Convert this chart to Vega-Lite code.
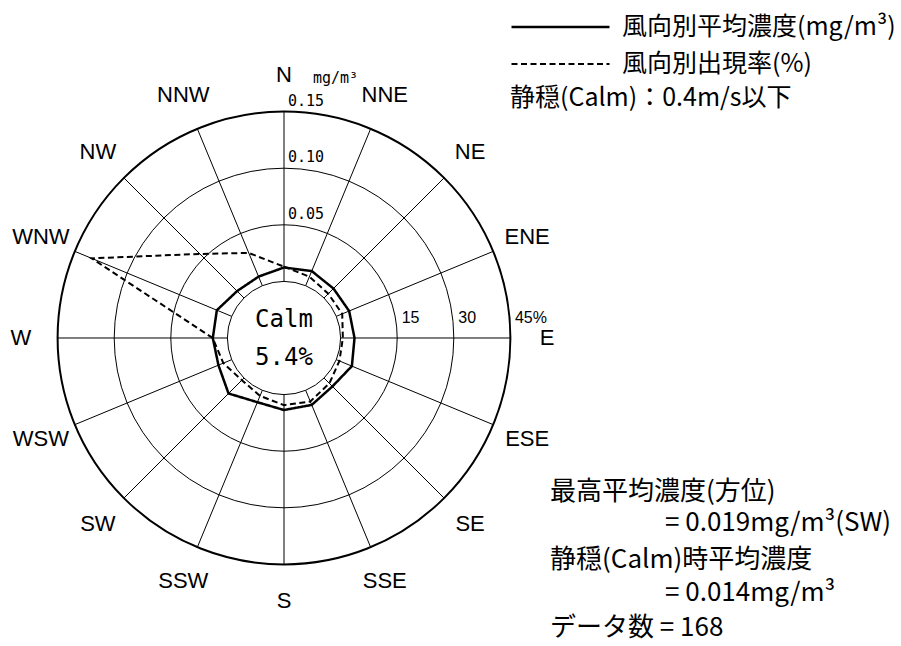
{
  "$schema": "https://vega.github.io/schema/vega-lite/v6.json",
  "width": 901,
  "height": 646,
  "autosize": {"type": "none"},
  "padding": 0,
  "background": "white",
  "config": {
    "view": {"stroke": null},
    "mark": {"color": "black"},
    "text": {"color": "black"},
    "legend": {
      "orient": "none",
      "legendX": 510,
      "legendY": 15,
      "padding": 0,
      "symbolType": "stroke",
      "symbolSize": 9604,
      "symbolStrokeWidth": 2,
      "symbolStrokeColor": "black",
      "symbolOffset": 0,
      "labelFont": "Noto Sans CJK JP",
      "labelFontSize": 25,
      "labelColor": "black",
      "labelLimit": 600,
      "labelOffset": 11,
      "clipHeight": 24,
      "rowPadding": 12
    }
  },
  "datasets": {
    "dirs": [
      {"dir": "N", "angle": 0, "conc": 0.0123, "pct": 3.9},
      {"dir": "NNE", "angle": 22.5, "conc": 0.0140, "pct": 2.6},
      {"dir": "NE", "angle": 45, "conc": 0.0118, "pct": 1.6},
      {"dir": "ENE", "angle": 67.5, "conc": 0.0123, "pct": 1.7},
      {"dir": "E", "angle": 90, "conc": 0.0123, "pct": 0.6},
      {"dir": "ESE", "angle": 112.5, "conc": 0.0149, "pct": 0.9},
      {"dir": "SE", "angle": 135, "conc": 0.0105, "pct": 2.0},
      {"dir": "SSE", "angle": 157.5, "conc": 0.0140, "pct": 3.2},
      {"dir": "S", "angle": 180, "conc": 0.0136, "pct": 2.8},
      {"dir": "SSW", "angle": 202.5, "conc": 0.0114, "pct": 1.6},
      {"dir": "SW", "angle": 225, "conc": 0.0193, "pct": 0.8},
      {"dir": "WSW", "angle": 247.5, "conc": 0.0127, "pct": 2.4},
      {"dir": "W", "angle": 270, "conc": 0.0129, "pct": 3.9},
      {"dir": "WNW", "angle": 292.5, "conc": 0.0142, "pct": 40.2},
      {"dir": "NW", "angle": 315, "conc": 0.0086, "pct": 16.5},
      {"dir": "NNW", "angle": 337.5, "conc": 0.0087, "pct": 9.4}
    ],
    "rings": [{"conc": 0}, {"conc": 0.05}, {"conc": 0.1}, {"conc": 0.15}],
    "conclabels": [
      {"conc": 0.05, "label": "0.05"},
      {"conc": 0.1, "label": "0.10"},
      {"conc": 0.15, "label": "0.15"}
    ],
    "pctlabels": [
      {"pct": 15, "label": "15"},
      {"pct": 30, "label": "30"},
      {"pct": 45, "label": "45%"}
    ],
    "one": [{"n": 1}]
  },
  "encoding": {
    "x": {"field": "px", "type": "quantitative", "axis": null, "scale": {"domain": [-5.01767, 10.90106], "nice": false, "zero": false}},
    "y": {"field": "py", "type": "quantitative", "axis": null, "scale": {"domain": [-5.4417, 5.97173], "nice": false, "zero": false}}
  },
  "layer": [
    {
      "data": {"name": "rings"},
      "transform": [
        {"calculate": "1 + datum.conc / 0.05", "as": "r"},
        {"calculate": "0", "as": "px"},
        {"calculate": "0", "as": "py"}
      ],
      "mark": {"type": "point", "shape": "circle", "filled": false, "stroke": "black", "opacity": 1},
      "encoding": {
        "size": {"field": "r", "type": "quantitative", "legend": null, "scale": {"type": "pow", "exponent": 2, "domain": [0, 4], "range": [0, 205028.7], "zero": true}},
        "strokeWidth": {"condition": {"test": "datum.conc >= 0.15", "value": 2}, "value": 1}
      }
    },
    {
      "data": {"name": "dirs"},
      "transform": [
        {"calculate": "datum.angle * PI / 180", "as": "rad"},
        {"calculate": "sin(datum.rad)", "as": "px"},
        {"calculate": "cos(datum.rad)", "as": "py"},
        {"calculate": "4 * sin(datum.rad)", "as": "px2"},
        {"calculate": "4 * cos(datum.rad)", "as": "py2"}
      ],
      "mark": {"type": "rule", "stroke": "black", "strokeWidth": 1},
      "encoding": {
        "x2": {"field": "px2"},
        "y2": {"field": "py2"}
      }
    },
    {
      "data": {"name": "dirs"},
      "transform": [
        {"calculate": "datum.angle * PI / 180", "as": "rad"},
        {"calculate": "4.65 * sin(datum.rad)", "as": "px"},
        {"calculate": "4.65 * cos(datum.rad)", "as": "py"}
      ],
      "mark": {"type": "text", "font": "Liberation Sans", "fontSize": 22, "align": "center", "baseline": "middle"},
      "encoding": {"text": {"field": "dir"}}
    },
    {
      "data": {"name": "conclabels"},
      "transform": [
        {"calculate": "0", "as": "px"},
        {"calculate": "1 + datum.conc / 0.05", "as": "py"}
      ],
      "mark": {"type": "text", "font": "DejaVu Sans Mono", "fontSize": 15, "align": "left", "baseline": "middle", "dx": 4, "dy": -11},
      "encoding": {"text": {"field": "label"}}
    },
    {
      "data": {"name": "pctlabels"},
      "transform": [
        {"calculate": "1 + datum.pct / 15", "as": "px"},
        {"calculate": "0", "as": "py"}
      ],
      "mark": {"type": "text", "font": "Liberation Sans", "fontSize": 16, "align": "left", "baseline": "middle", "dx": 4.5, "dy": -20},
      "encoding": {"text": {"field": "label"}}
    },
    {
      "data": {"name": "dirs"},
      "transform": [
        {"fold": ["conc", "pct"], "as": ["key", "value"]},
        {"calculate": "datum.key == 'conc' ? 1 + datum.value / 0.05 : 1 + datum.value / 15", "as": "r"},
        {"calculate": "datum.key == 'conc' ? '風向別平均濃度(mg/m³)' : '風向別出現率(%)'", "as": "series"},
        {"calculate": "datum.angle * PI / 180", "as": "rad"},
        {"calculate": "datum.r * sin(datum.rad)", "as": "px"},
        {"calculate": "datum.r * cos(datum.rad)", "as": "py"}
      ],
      "mark": {"type": "line", "interpolate": "linear-closed", "color": "black"},
      "encoding": {
        "order": {"field": "angle", "type": "quantitative"},
        "strokeDash": {
          "field": "series",
          "type": "nominal",
          "scale": {"domain": ["風向別平均濃度(mg/m³)", "風向別出現率(%)"], "range": [[1, 0], [6, 3.5]]},
          "legend": {"title": null}
        },
        "strokeWidth": {
          "field": "series",
          "type": "nominal",
          "scale": {"domain": ["風向別平均濃度(mg/m³)", "風向別出現率(%)"], "range": [2.5, 2]},
          "legend": null
        }
      }
    },
    {
      "data": {"name": "one"},
      "transform": [
        {"calculate": "0.512", "as": "px"},
        {"calculate": "4.594", "as": "py"}
      ],
      "mark": {"type": "text", "text": "mg/m³", "font": "DejaVu Sans Mono", "fontSize": 15, "align": "left", "baseline": "middle"}
    },
    {
      "data": {"name": "one"},
      "transform": [
        {"calculate": "0", "as": "px"},
        {"calculate": "0", "as": "py"}
      ],
      "mark": {"type": "text", "text": ["Calm", "5.4%"], "font": "DejaVu Sans Mono", "fontSize": 24, "lineHeight": 38, "align": "center", "baseline": "middle", "dy": -17.5}
    },
    {
      "data": {"name": "one"},
      "transform": [
        {"calculate": "3.993", "as": "px"},
        {"calculate": "4.24", "as": "py"}
      ],
      "mark": {"type": "text", "text": "静穏(Calm)：0.4m/s以下", "font": "Noto Sans CJK JP", "fontSize": 25, "align": "left", "baseline": "middle"}
    },
    {
      "data": {"name": "one"},
      "transform": [
        {"calculate": "4.7", "as": "px"},
        {"calculate": "-2.716", "as": "py"}
      ],
      "mark": {"type": "text", "text": "最高平均濃度(方位)", "font": "Noto Sans CJK JP", "fontSize": 26, "align": "left", "baseline": "middle"}
    },
    {
      "data": {"name": "one"},
      "transform": [
        {"calculate": "6.731", "as": "px"},
        {"calculate": "-3.269", "as": "py"}
      ],
      "mark": {"type": "text", "text": "= 0.019mg/m³(SW)", "font": "Noto Sans CJK JP", "fontSize": 26, "align": "left", "baseline": "middle"}
    },
    {
      "data": {"name": "one"},
      "transform": [
        {"calculate": "4.7", "as": "px"},
        {"calculate": "-3.922", "as": "py"}
      ],
      "mark": {"type": "text", "text": "静穏(Calm)時平均濃度", "font": "Noto Sans CJK JP", "fontSize": 26, "align": "left", "baseline": "middle"}
    },
    {
      "data": {"name": "one"},
      "transform": [
        {"calculate": "6.731", "as": "px"},
        {"calculate": "-4.505", "as": "py"}
      ],
      "mark": {"type": "text", "text": "= 0.014mg/m³", "font": "Noto Sans CJK JP", "fontSize": 26, "align": "left", "baseline": "middle"}
    },
    {
      "data": {"name": "one"},
      "transform": [
        {"calculate": "4.7", "as": "px"},
        {"calculate": "-5.124", "as": "py"}
      ],
      "mark": {"type": "text", "text": "データ数 = 168", "font": "Noto Sans CJK JP", "fontSize": 26, "align": "left", "baseline": "middle"}
    }
  ]
}
